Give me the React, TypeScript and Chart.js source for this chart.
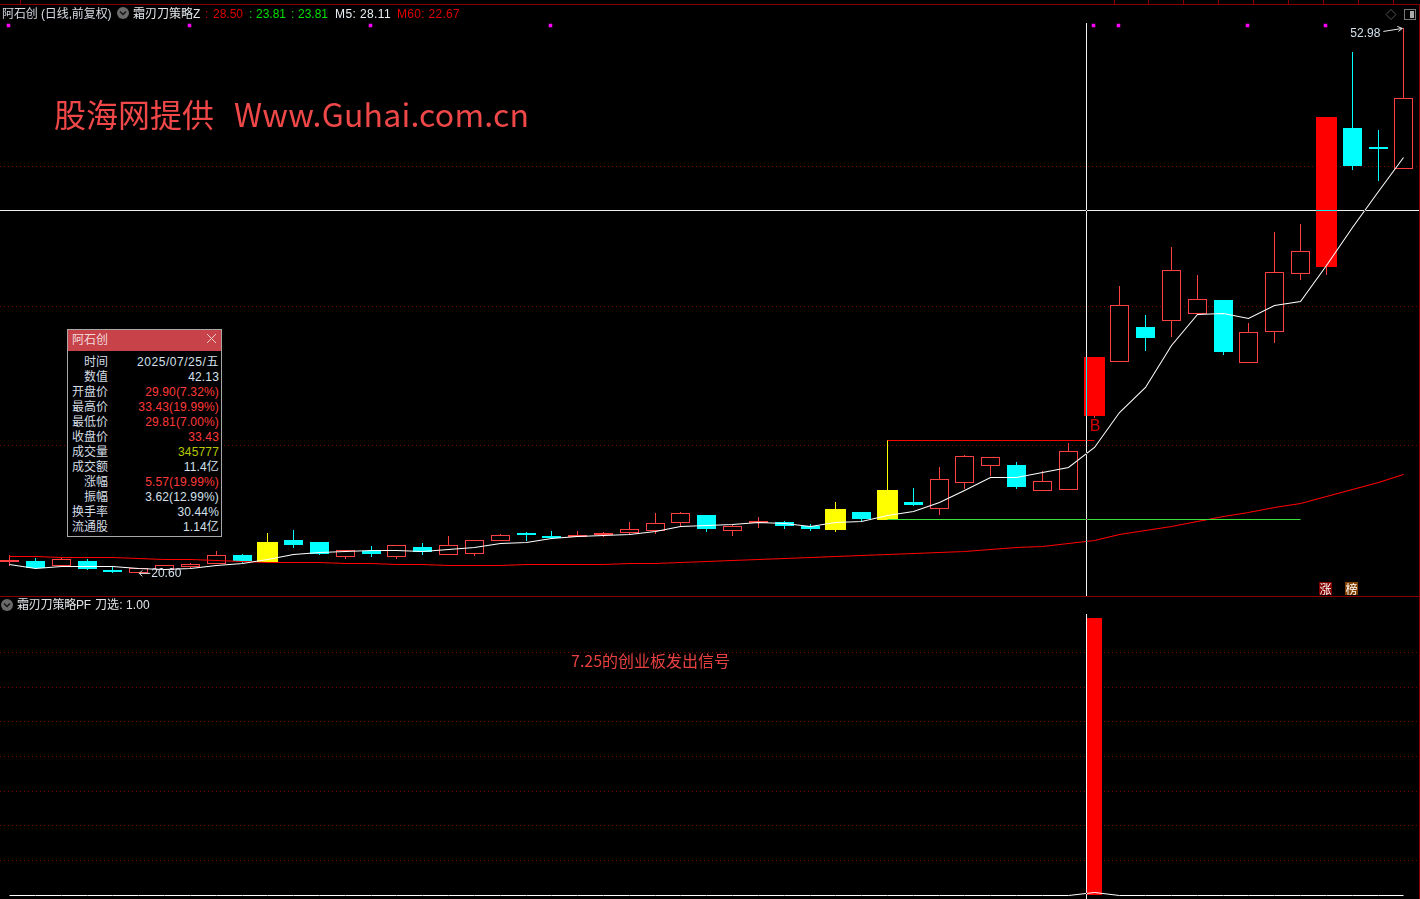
import React, { useEffect, useRef } from "react";
import { Chart, registerables } from "chart.js";

Chart.register(...registerables);

const opens = [21.25,21.31,21.03,21.31,20.79,20.61,20.77,20.97,21.11,21.66,21.25,22.55,22.44,21.56,21.90,21.56,22.14,21.68,21.71,22.51,22.97,22.79,22.73,22.85,22.99,23.11,23.58,24.04,23.11,23.56,23.62,23.39,23.15,24.22,23.74,24.81,24.41,25.96,26.97,27.01,25.48,25.54,29.90,33.11,35.21,35.58,36.00,36.81,33.05,34.93,38.38,38.78,47.03,45.91,44.62];
const closes = [21.37,20.91,21.41,20.83,20.67,20.87,21.05,21.11,21.65,21.31,22.44,22.28,21.74,21.94,21.72,22.24,21.86,22.24,22.54,22.83,22.85,22.67,22.85,22.97,23.19,23.55,24.14,23.21,23.37,23.68,23.39,23.21,24.40,23.80,25.53,24.63,26.16,27.53,27.47,25.72,26.04,27.83,33.43,36.50,34.56,38.58,36.86,33.72,34.90,38.46,39.71,47.69,44.78,45.79,48.80];
const highs = [21.66,21.47,21.56,21.42,21.03,20.87,21.05,21.21,21.90,21.72,22.97,23.15,22.44,21.94,22.20,22.24,22.38,22.79,22.54,22.91,23.03,23.09,23.09,23.03,23.62,24.16,24.22,24.04,23.45,23.92,23.68,23.51,24.81,24.22,28.50,25.64,26.89,27.60,27.47,27.19,26.65,28.32,33.43,37.65,35.92,39.96,38.30,36.81,35.45,40.85,41.33,47.69,51.55,46.92,52.98];
const lows = [21.01,20.91,21.03,20.77,20.61,20.60,20.77,20.91,21.11,21.17,21.25,22.10,21.68,21.44,21.56,21.44,21.68,21.68,21.62,22.51,22.50,22.67,22.73,22.73,22.91,22.93,23.39,23.03,22.79,23.27,23.21,23.09,23.03,23.68,23.74,24.57,24.06,25.58,26.38,25.58,25.48,25.54,29.81,33.11,33.78,34.62,36.00,33.55,33.05,34.26,38.00,38.30,44.54,43.89,44.62];
const m5 = [21.13,20.91,21.03,21.03,20.99,20.91,20.85,20.89,21.05,21.17,21.44,21.72,21.86,21.92,21.98,21.94,21.90,22.00,22.12,22.36,22.45,22.67,22.78,22.83,22.91,23.09,23.37,23.45,23.51,23.61,23.55,23.37,23.61,23.67,24.04,24.30,24.83,25.53,26.28,26.28,26.58,26.91,28.10,30.16,31.65,34.14,35.98,36.04,35.75,36.52,36.76,38.89,41.17,43.30,45.31];
const m60 = [21.63,21.59,21.56,21.54,21.53,21.48,21.45,21.40,21.35,21.31,21.26,21.23,21.23,21.21,21.17,21.13,21.11,21.07,21.05,21.05,21.10,21.11,21.11,21.11,21.16,21.17,21.23,21.29,21.35,21.41,21.47,21.53,21.59,21.65,21.71,21.76,21.82,21.93,22.02,22.11,22.20,22.35,22.58,22.91,23.15,23.39,23.68,23.98,24.22,24.51,24.75,25.17,25.58,26.00,26.48];
const signalCurve = [0,0,0,0,0,0,0,0,0,0,0,0,0,0,0,0,0,0,0,0,0,0,0,0,0,0,0,0,0,0,0,0,0,0,0,0,0,0,0,0,0,0,0.012,0,0,0,0,0,0,0,0,0,0,0,0];

const yellowCandles = [10, 32, 34];
const solidRedCandles = [42, 51];
const markerCandles = [0, 7, 14, 21, 42, 43, 48, 51];
const markerPrice = 53.15;
const signalCandle = 42;
const signalValue = 1;
const resistance = { price: 28.5, from: 34, to: 42 };
const support = { price: 23.81, from: 34, to: 50 };
const cursorIndex = 41.73;
const cursorPrice = 42.13;
const lowLabel = { index: 5, price: 20.6, text: "20.60" };
const highLabel = { index: 54, price: 52.98, text: "52.98" };
const priceGrid = [44.76, 36.44, 28.18];
const signalGrid = [0.125, 0.25, 0.375, 0.5, 0.625, 0.75, 0.875];

const quote = [
  ["时间", "2025/07/25/五", "#d4e0ec"],
  ["数值", "42.13", "#d4e0ec"],
  ["开盘价", "29.90(7.32%)", "#ff3a3a"],
  ["最高价", "33.43(19.99%)", "#ff3a3a"],
  ["最低价", "29.81(7.00%)", "#ff3a3a"],
  ["收盘价", "33.43", "#ff3a3a"],
  ["成交量", "345777", "#b8c800"],
  ["成交额", "11.4亿", "#d4e0ec"],
  ["涨幅", "5.57(19.99%)", "#ff3a3a"],
  ["振幅", "3.62(12.99%)", "#d4e0ec"],
  ["换手率", "30.44%", "#d4e0ec"],
  ["流通股", "1.14亿", "#d4e0ec"],
];

const HOLLOW = "#ff4040";
const CYAN = "#00ffff";
const YELLOW = "#ffff00";
const RED = "#ff0000";
const FRAME = "#8a0000";
const GRID = "#800000";
const UI_FONT = '"Liberation Sans","Noto Sans CJK SC",sans-serif';
const CJK_FONT = '"Noto Sans CJK SC","Liberation Sans",sans-serif';

const indices = opens.map((_, i) => i);
const isYellow = (i: number) => yellowCandles.includes(i);
const isSolid = (i: number) => solidRedCandles.includes(i);
const isCyan = (i: number) => !isYellow(i) && !isSolid(i) && closes[i] < opens[i];
const isHollow = (i: number) => !isYellow(i) && !isSolid(i) && closes[i] >= opens[i];
const body = (i: number) => ({ x: i, y: [opens[i], closes[i]] });
const wickColor = (i: number) => (isYellow(i) ? YELLOW : isCyan(i) ? CYAN : HOLLOW);

const snapMarks = {
  id: "snapMarks",
  afterDatasetsUpdate(chart: any) {
    chart.getSortedVisibleDatasetMetas().forEach((meta: any) => {
      meta.data.forEach((el: any) => {
        const slot = Math.ceil(el.x - 9.5);
        if (meta.type === "bar") {
          el.x = slot + 9.5;
          el.y = Math.round(el.y);
          el.base = Math.round(el.base);
        } else {
          el.x = slot + 9.5 - (el.options?.radius > 0 ? 1 : 0);
          el.y = Math.round(el.y) + 0.5;
        }
      });
    });
  },
};

const overlay = {
  id: "overlay",
  afterDatasetsDraw(chart: any) {
    const { ctx, scales } = chart;
    const px = (v: number) => scales.x.getPixelForValue(v);
    const py = (v: number) => scales.y.getPixelForValue(v);
    ctx.save();

    // frame
    ctx.fillStyle = FRAME;
    ctx.fillRect(0, 4, 1420, 1);
    ctx.fillRect(0, 596, 1420, 1);
    ctx.fillRect(1419, 4, 1, 895);
    [20, 1114, 1148, 1183, 1218, 1253, 1288, 1323, 1358, 1393].forEach((t) => ctx.fillRect(t, 0, 1, 4));

    // cursor
    ctx.globalCompositeOperation = "difference";
    ctx.fillStyle = "#eeeeee";
    const cx = Math.floor(px(cursorIndex));
    ctx.fillRect(cx, 23, 1, 573);
    ctx.fillRect(cx, 614, 1, 285);
    ctx.fillRect(0, Math.floor(py(cursorPrice)), 1419, 1);
    ctx.globalCompositeOperation = "source-over";

    // extreme labels
    ctx.strokeStyle = "#e8e8e8";
    ctx.fillStyle = "#d4e0ec";
    ctx.lineWidth = 1;
    ctx.font = `12px ${UI_FONT}`;
    ctx.textBaseline = "middle";
    const hx = px(highLabel.index) - 1;
    const hy = py(highLabel.price);
    ctx.beginPath();
    ctx.moveTo(hx - 19, hy + 3.5);
    ctx.lineTo(hx, hy + 0.5);
    ctx.moveTo(hx - 5, hy - 1.5);
    ctx.lineTo(hx, hy + 0.5);
    ctx.lineTo(hx - 4, hy + 3.5);
    ctx.stroke();
    ctx.textAlign = "right";
    ctx.fillText(highLabel.text, hx - 22, hy + 6);

    const lx = px(lowLabel.index);
    const ly = py(lowLabel.price) + 0.5;
    ctx.beginPath();
    ctx.moveTo(lx + 12, ly);
    ctx.lineTo(lx + 1, ly);
    ctx.moveTo(lx + 4, ly - 3);
    ctx.lineTo(lx + 1, ly);
    ctx.lineTo(lx + 4, ly + 3);
    ctx.stroke();
    ctx.textAlign = "left";
    ctx.fillText(lowLabel.text, lx + 13, ly + 0.5);

    // buy flag
    ctx.fillStyle = "#d80000";
    ctx.font = `16px ${UI_FONT}`;
    ctx.textAlign = "center";
    ctx.fillText("B", px(signalCandle) + 1.5, py(lows[signalCandle]) + 9);

    // top right buttons
    ctx.strokeStyle = "#555555";
    ctx.beginPath();
    ctx.moveTo(1391, 9.5);
    ctx.lineTo(1396, 14.5);
    ctx.lineTo(1391, 19.5);
    ctx.lineTo(1386, 14.5);
    ctx.closePath();
    ctx.stroke();
    ctx.strokeStyle = "#777777";
    ctx.strokeRect(1404.5, 9.5, 11, 10);
    ctx.fillStyle = "#aaaaaa";
    ctx.fillRect(1410, 11, 4, 7);
    ctx.restore();
  },
};

function Text({ x, y, color, size = 12, right, font = UI_FONT, spacing, children }: any) {
  const style: React.CSSProperties = {
    position: "absolute",
    top: y - 10,
    lineHeight: "20px",
    height: 20,
    color,
    fontSize: size,
    fontFamily: font,
    letterSpacing: spacing,
    whiteSpace: "nowrap",
  };
  if (right !== undefined) style.right = 1420 - right;
  else style.left = x;
  return <div style={style}>{children}</div>;
}

function Chevron({ x, y }: { x: number; y: number }) {
  return (
    <svg style={{ position: "absolute", left: x, top: y }} width={12} height={12}>
      <circle cx={6} cy={6} r={6} fill="#6a6a6a" />
      <path d="M3 4.5 L6 7.5 L9 4.5" stroke="#111" strokeWidth={1.3} fill="none" />
    </svg>
  );
}

export default function App() {
  const ref = useRef<HTMLCanvasElement>(null);

  useEffect(() => {
    document.body.style.margin = "0";
    document.body.style.background = "#000";
    const priceLine = (data: any[], color: string, order: number, width = 1) => ({
      type: "line",
      data,
      yAxisID: "y",
      borderColor: color,
      borderWidth: width,
      pointRadius: 0,
      tension: 0,
      order,
    });
    const bars = (data: any[], thickness: number, rest: any) => ({
      type: "bar",
      data,
      yAxisID: "y",
      barThickness: thickness,
      grouped: false,
      borderSkipped: false,
      inflateAmount: 0,
      ...rest,
    });
    const wicks = indices.map((i) => ({ x: i, y: [lows[i], highs[i]] }));
    const chart = new Chart(ref.current as HTMLCanvasElement, {
      type: "bar",
      data: {
        datasets: [
          bars(wicks, 1, { backgroundColor: indices.map(wickColor), order: 20 }),
          bars(indices.filter(isHollow).map(body), 19, {
            backgroundColor: "#000000",
            borderColor: HOLLOW,
            borderWidth: 1,
            order: 15,
          }),
          bars(indices.filter(isCyan).map(body), 19, { backgroundColor: CYAN, order: 14 }),
          bars(yellowCandles.map(body), 21, { backgroundColor: YELLOW, order: 13 }),
          bars(solidRedCandles.map(body), 21, { backgroundColor: RED, order: 12 }),
          priceLine(indices.map((i) => ({ x: i, y: m60[i] })), RED, 6, 1.05),
          priceLine(
            [resistance.from, resistance.to].map((x) => ({ x, y: resistance.price })),
            RED,
            5
          ),
          priceLine(
            [support.from, support.to].map((x) => ({ x, y: support.price })),
            "#38e038",
            4
          ),
          priceLine(indices.map((i) => ({ x: i, y: m5[i] })), "#ffffff", 3, 1.05),
          {
            type: "line",
            data: markerCandles.map((x) => ({ x, y: markerPrice })),
            yAxisID: "y",
            showLine: false,
            pointStyle: "rect",
            pointRadius: 2.5,
            pointBorderWidth: 0,
            pointBackgroundColor: "#ff00ff",
            order: 2,
          },
          bars([{ x: signalCandle, y: [0, signalValue] }], 19, {
            yAxisID: "y2",
            backgroundColor: "#000000",
            order: 11,
          }),
          bars([{ x: signalCandle, y: [0, signalValue] }], 15, {
            yAxisID: "y2",
            backgroundColor: RED,
            order: 10,
          }),
          {
            type: "line",
            data: indices.map((i) => ({ x: i, y: signalCurve[i] })),
            yAxisID: "y2",
            borderColor: "#ffffff",
            borderWidth: 1,
            pointRadius: 0,
            tension: 0,
            order: 9,
          },
        ] as any,
      },
      options: {
        animation: false,
        responsive: false,
        devicePixelRatio: 1,
        maintainAspectRatio: false,
        layout: { padding: 0, autoPadding: false },
        plugins: { legend: { display: false }, tooltip: { enabled: false } },
        events: [],
        scales: {
          x: { type: "linear", display: false, offset: false, min: -0.3556, max: 54.645 },
          y: {
            type: "linear",
            position: "left",
            min: 1.223,
            max: 54.64,
            ticks: { display: false, autoSkip: false },
            grid: { color: GRID, drawTicks: false },
            border: { display: false, dash: [1, 3] },
            afterBuildTicks: (s: any) => {
              s.ticks = priceGrid.map((value) => ({ value }));
            },
          },
          y2: {
            type: "linear",
            position: "right",
            min: -0.01444,
            max: 3.2311,
            ticks: { display: false, autoSkip: false },
            grid: { color: GRID, drawTicks: false },
            border: { display: false, dash: [1, 3] },
            afterBuildTicks: (s: any) => {
              s.ticks = signalGrid.map((value) => ({ value }));
            },
          },
        },
      } as any,
      plugins: [snapMarks, overlay],
    } as any);
    return () => chart.destroy();
  }, []);

  return (
    <div style={{ position: "fixed", left: 0, top: 0, width: 1420, height: 899, background: "#000", overflow: "hidden" }}>
      <canvas ref={ref} width={1420} height={899} style={{ position: "absolute", left: 0, top: 0 }} />

      <Text x={2} y={14} color="#d8dde4" spacing="-0.1px">阿石创 (日线,前复权)</Text>
      <Chevron x={117} y={7} />
      <Text x={133} y={14} color="#e4e8ec">霜刃刀策略Z</Text>
      <Text x={205} y={14} color="#e00000">:</Text>
      <Text x={213} y={14} color="#e00000">28.50</Text>
      <Text x={249} y={14} color="#00e000">:</Text>
      <Text x={256} y={14} color="#00e000">23.81</Text>
      <Text x={291} y={14} color="#00e000">:</Text>
      <Text x={298} y={14} color="#00e000">23.81</Text>
      <Text x={335} y={14} color="#e8eef4" spacing="0.4px">M5: 28.11</Text>
      <Text x={397} y={14} color="#e00000" spacing="0.3px">M60: 22.67</Text>

      <Text x={54} y={113} color="#f04848" size={32} font={CJK_FONT}>股海网提供</Text>
      <Text x={234} y={113} color="#f04848" size={32} font={CJK_FONT} spacing="0.2px">Www.Guhai.com.cn</Text>

      <Chevron x={1} y={599} />
      <Text x={17} y={605} color="#e0e4e8" spacing="-0.2px">霜刃刀策略PF</Text>
      <Text x={95} y={605} color="#e0e4e8" spacing="0.1px">刀选: 1.00</Text>
      <Text x={571} y={660} color="#e84040" size={16} font={CJK_FONT}>7.25的创业板发出信号</Text>

      <div style={{ position: "absolute", left: 1319, top: 582, width: 13, height: 13, background: "#800000", color: "#fff", fontSize: 12, lineHeight: "13px", textAlign: "center", fontFamily: CJK_FONT }}>涨</div>
      <div style={{ position: "absolute", left: 1345, top: 582, width: 13, height: 13, background: "#804000", color: "#fff", fontSize: 12, lineHeight: "13px", textAlign: "center", fontFamily: CJK_FONT }}>榜</div>

      <div style={{ position: "absolute", left: 67, top: 329, width: 153, height: 206, border: "1px solid #a8a8a8", background: "#000" }}>
        <div style={{ position: "absolute", left: 0, top: 0, width: 153, height: 21, background: "#c8424a" }} />
      </div>
      <Text x={72} y={340} color="#f0dcdc">阿石创</Text>
      <svg style={{ position: "absolute", left: 206, top: 333 }} width={11} height={11}>
        <path d="M1 1 L10 10 M10 1 L1 10" stroke="#e8d0d0" strokeWidth={1} />
      </svg>
      {quote.map(([label, value, color], k) => (
        <React.Fragment key={label}>
          <Text right={108} y={362 + k * 15} color="#d4dce4">{label}</Text>
          <Text right={219} y={362 + k * 15} color={color} spacing={k === 0 ? "0.55px" : "0.15px"}>{value}</Text>
        </React.Fragment>
      ))}
    </div>
  );
}
